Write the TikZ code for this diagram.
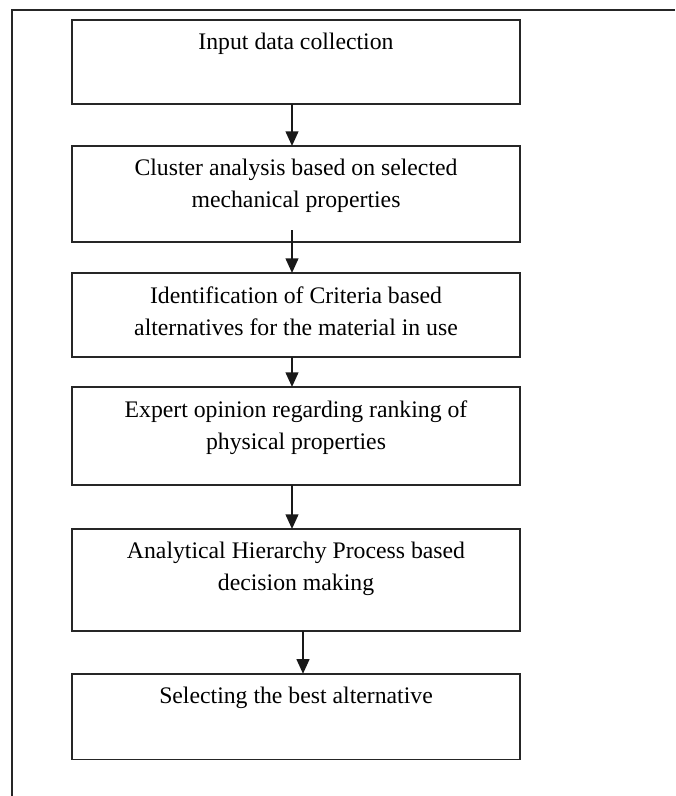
\documentclass[tikz,border=0pt]{standalone}
\usepackage{fontspec}
\setmainfont{Liberation Serif}
\usetikzlibrary{positioning}
\usetikzlibrary{arrows.meta}

\begin{document}
\begin{tikzpicture}[x = 0.75pt, y = -0.75pt]
\tikzstyle{StepBox}=[shape = rectangle,
                     draw = black!85,
                     line width = 1pt,
                     minimum width = 336pt,
                     inner sep = 0pt,
                     outer sep = 0pt]
\tikzstyle{StepText}=[align = center,
                      inner sep = 0pt,
                      outer sep = 0pt,
                      font = \fontsize{17.8}{24}\selectfont]
\tikzstyle{Flow}=[draw = black!90,
                  line width = 1.6pt,
                  -{Triangle[length = 11pt, width = 9.5pt]}]
\useasboundingbox (0,0) rectangle (675,796);
\draw[line width = 1.2pt, black!85] (675,10) -- (12,10) -- (12,796);
\node[StepBox, minimum height = 63pt]   (b1) at (296,62)    {};
\node[StepBox, minimum height = 72pt]   (b2) at (296,194)   {};
\node[StepBox, minimum height = 63pt]   (b3) at (296,315)   {};
\node[StepBox, minimum height = 73.5pt] (b4) at (296,436)   {};
\node[StepBox, minimum height = 76.5pt] (b5) at (296,580)   {};
\node[StepBox, minimum height = 64pt]   (b6) at (296,716.5) {};
\node[StepText, below = 10pt of b1.north] (t1) {Input data collection};
\node[StepText, below = 10pt of b2.north] (t2) {Cluster analysis based on selected\\mechanical properties};
\node[StepText, below = 10pt of b3.north] (t3) {Identification of Criteria based\\alternatives for the material in use};
\node[StepText, below = 10pt of b4.north] (t4) {Expert opinion regarding ranking of\\physical properties};
\node[StepText, below = 10pt of b5.north] (t5) {Analytical Hierarchy Process based\\decision making};
\node[StepText, below = 10pt of b6.north] (t6) {Selecting the best alternative};
\draw[Flow] ([xshift = -3pt]b1.south) -- ([xshift = -3pt]b2.north);
\draw[Flow] ([xshift = -3pt, yshift = 9pt]b2.south) -- ([xshift = -3pt]b3.north);
\draw[Flow] ([xshift = -3pt]b3.south) -- ([xshift = -3pt]b4.north);
\draw[Flow] ([xshift = -3pt]b4.south) -- ([xshift = -3pt]b5.north);
\draw[Flow] ([xshift = 5.25pt]b5.south) -- ([xshift = 5.25pt]b6.north);
\end{tikzpicture}
\end{document}
